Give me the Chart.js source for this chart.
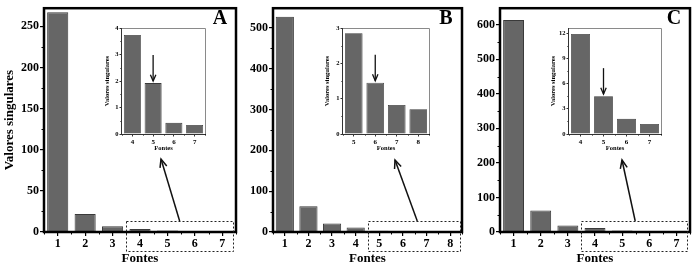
<!DOCTYPE html>
<html>
<head>
<meta charset="utf-8">
<script src="https://cdn.jsdelivr.net/npm/chart.js@4.4.1/dist/chart.umd.min.js"></script>
<style>
  body { margin: 0; background: #fff; }
  #wrap { position: relative; width: 692px; height: 269px; overflow: hidden; }
  canvas { position: absolute; }
</style>
</head>
<body>
<div id="wrap">
  <canvas id="mainA" width="240" height="269" style="left:0;top:0"></canvas>
  <canvas id="mainB" width="230" height="269" style="left:240px;top:0"></canvas>
  <canvas id="mainC" width="222" height="269" style="left:470px;top:0"></canvas>
  <canvas id="insetA" width="110" height="136" style="left:100px;top:20px"></canvas>
  <canvas id="insetB" width="115" height="136" style="left:320px;top:20px"></canvas>
  <canvas id="insetC" width="120" height="136" style="left:546px;top:20px"></canvas>
</div>
<script>
// main panels
var fontesA = ['1', '2', '3', '4', '5', '6', '7'];
var valoresA = [267, 22, 7, 3.74, 1.92, 0.42, 0.34];
var fontesB = ['1', '2', '3', '4', '5', '6', '7', '8'];
var valoresB = [527, 63, 21, 11, 2.85, 1.45, 0.82, 0.70];
var fontesC = ['1', '2', '3', '4', '5', '6', '7'];
var valoresC = [614, 62, 19, 11.9, 4.5, 1.8, 1.2];

// insets
var insetFontesA = ['4', '5', '6', '7'];
var insetValoresA = [3.74, 1.92, 0.42, 0.34];
var insetFontesB = ['5', '6', '7', '8'];
var insetValoresB = [2.85, 1.45, 0.82, 0.70];
var insetFontesC = ['4', '5', '6', '7'];
var insetValoresC = [11.9, 4.5, 1.8, 1.2];

var serif = "'Liberation Serif', 'DejaVu Serif', serif";
var barFill = '#666666';
var barEdge = '#3a3a3a';

function drawArrow(ctx, x1, y1, x2, y2, head) {
    var ang = Math.atan2(y2 - y1, x2 - x1);
    ctx.beginPath();
    ctx.moveTo(x1, y1);
    ctx.lineTo(x2, y2);
    ctx.stroke();
    ctx.beginPath();
    ctx.moveTo(x2 - head * Math.cos(ang - 0.4), y2 - head * Math.sin(ang - 0.4));
    ctx.lineTo(x2, y2);
    ctx.lineTo(x2 - head * Math.cos(ang + 0.4), y2 - head * Math.sin(ang + 0.4));
    ctx.stroke();
}

var decor = {
    id: 'decor',
    afterDraw: function(chart, args, o) {
        var ctx = chart.ctx, a = chart.chartArea;
        var x = chart.scales.x, y = chart.scales.y;
        ctx.save();
        // minor ticks
        ctx.strokeStyle = '#000';
        ctx.lineWidth = 1;
        y.ticks.forEach(function(t) {
            var v = t.value + o.step / 2;
            if (v >= y.max) return;
            var py = Math.round(y.getPixelForValue(v)) + 0.5;
            ctx.beginPath();
            ctx.moveTo(a.left, py);
            ctx.lineTo(a.left - o.minor, py);
            ctx.stroke();
        });
        for (var i = 0; i <= x.ticks.length; i++) {
            var px = Math.round(x.getPixelForValue(i - 0.5)) + 0.5;
            ctx.beginPath();
            ctx.moveTo(px, a.bottom);
            ctx.lineTo(px, a.bottom + o.minor);
            ctx.stroke();
        }
        // frame
        if (o.inset) {
            ctx.strokeStyle = '#8a8a8a';
            ctx.lineWidth = 1;
            ctx.beginPath();
            ctx.moveTo(a.left, a.top + 0.5);
            ctx.lineTo(a.right + 0.5, a.top + 0.5);
            ctx.lineTo(a.right + 0.5, a.bottom);
            ctx.stroke();
            ctx.strokeStyle = '#333';
            ctx.beginPath();
            ctx.moveTo(a.left - 0.5, a.top);
            ctx.lineTo(a.left - 0.5, a.bottom + 0.5);
            ctx.lineTo(a.right + 0.5, a.bottom + 0.5);
            ctx.stroke();
            // arrow pointing at the chosen bar
            var bar = chart.getDatasetMeta(0).data[o.mark];
            ctx.strokeStyle = '#111';
            ctx.lineWidth = 1.3;
            drawArrow(ctx, bar.x, bar.y - 28, bar.x, bar.y - 2, 7);
        } else {
            ctx.strokeStyle = '#000';
            ctx.lineWidth = 2.5;
            ctx.strokeRect(a.left, a.top, a.width, a.height);
            // panel letter
            ctx.fillStyle = '#000';
            ctx.font = 'bold 20px ' + serif;
            ctx.textAlign = 'center';
            ctx.textBaseline = 'middle';
            ctx.fillText(o.letter, a.right - 16, a.top + 11);
            // dashed zoom box
            var left = x.getPixelForValue(o.from - 0.5);
            var right = a.right - 3;
            var top = a.bottom - 11;
            ctx.lineWidth = 1;
            ctx.strokeStyle = '#222';
            ctx.setLineDash([2, 2]);
            ctx.strokeRect(Math.round(left) + 0.5, top + 0.5, Math.round(right - left), 30);
            ctx.setLineDash([]);
            ctx.lineWidth = 1.5;
            ctx.strokeStyle = '#111';
            drawArrow(ctx, (left + right) / 2 + o.tailShift, top, o.head[0], o.head[1], 9);
        }
        ctx.restore();
    }
};

function mainChart(id, labels, values, yMax, step, yWidth, padRight, letter, from, head, tailShift, showYTitle) {
    return new Chart(document.getElementById(id), {
        type: 'bar',
        data: {
            labels: labels,
            datasets: [{
                data: values,
                backgroundColor: barFill,
                borderColor: barEdge,
                borderWidth: 1,
                barPercentage: 0.77,
                categoryPercentage: 1
            }]
        },
        options: {
            responsive: false,
            animation: false,
            devicePixelRatio: 1,
            layout: { padding: { top: 5, right: padRight, left: 0, bottom: 0 } },
            plugins: {
                legend: { display: false },
                tooltip: { enabled: false },
                decor: { letter: letter, from: from, head: head, tailShift: tailShift, step: step, minor: 2.5 }
            },
            scales: {
                x: {
                    offset: true,
                    border: { display: false },
                    grid: { offset: false, drawOnChartArea: false, drawTicks: true, tickLength: 4, tickColor: '#000', lineWidth: 1.2 },
                    ticks: { color: '#000', padding: 1, font: { family: serif, size: 12, weight: 'bold' }, maxRotation: 0 },
                    title: { display: true, text: 'Fontes', color: '#000', padding: { top: 0, bottom: 3 }, font: { family: serif, size: 13, weight: 'bold' } },
                    afterFit: function(s) { s.height = 37; }
                },
                y: {
                    min: 0,
                    max: yMax,
                    border: { display: false },
                    grid: { drawOnChartArea: false, drawTicks: true, tickLength: 4, tickColor: '#000', lineWidth: 1.2 },
                    ticks: { stepSize: step, includeBounds: false, color: '#000', padding: 1, font: { family: serif, size: 12, weight: 'bold' } },
                    title: { display: showYTitle, text: 'Valores singulares', color: '#000', padding: { top: 2, bottom: 0 }, font: { family: serif, size: 13, weight: 'bold' } },
                    afterFit: function(s) { s.width = yWidth; }
                }
            }
        },
        plugins: [decor]
    });
}

function insetChart(id, labels, values, yMax, step, yWidth, padRight) {
    return new Chart(document.getElementById(id), {
        type: 'bar',
        data: {
            labels: labels,
            datasets: [{
                data: values,
                backgroundColor: barFill,
                borderColor: barEdge,
                borderWidth: 0.8,
                barPercentage: 0.82,
                categoryPercentage: 1
            }]
        },
        options: {
            responsive: false,
            animation: false,
            devicePixelRatio: 1,
            layout: { padding: { top: 8, right: padRight, left: 0, bottom: 0 } },
            plugins: {
                legend: { display: false },
                tooltip: { enabled: false },
                decor: { inset: true, mark: 1, step: step, minor: 1.5 }
            },
            scales: {
                x: {
                    offset: true,
                    border: { display: false },
                    grid: { offset: false, drawOnChartArea: false, drawTicks: true, tickLength: 2.5, tickColor: '#333' },
                    ticks: { color: '#000', padding: 1, font: { family: serif, size: 7, weight: 'bold' }, maxRotation: 0 },
                    title: { display: true, text: 'Fontes', color: '#000', padding: { top: 0, bottom: 4 }, font: { family: serif, size: 6.5, weight: 'bold' } },
                    afterFit: function(s) { s.height = 22; }
                },
                y: {
                    min: 0,
                    max: yMax,
                    border: { display: false },
                    grid: { drawOnChartArea: false, drawTicks: true, tickLength: 2.5, tickColor: '#333' },
                    ticks: { stepSize: step, includeBounds: false, color: '#000', padding: 1, font: { family: serif, size: 6.5, weight: 'bold' } },
                    title: { display: true, text: 'Valores singulares', color: '#000', padding: { top: 3, bottom: 0 }, font: { family: serif, size: 6.5, weight: 'bold' } },
                    afterFit: function(s) { s.width = yWidth; }
                }
            }
        },
        plugins: [decor]
    });
}

mainChart('mainA', fontesA, valoresA, 272, 50, 44, 4, 'A', 3, [161, 159], 0, true);
mainChart('mainB', fontesB, valoresB, 548, 100, 33, 8, 'B', 4, [155, 160], 4, false);
mainChart('mainC', fontesC, valoresC, 648, 100, 30, 2, 'C', 3, [152, 160], 1, false);

insetChart('insetA', insetFontesA, insetValoresA, 4, 1, 22, 5);
insetChart('insetB', insetFontesB, insetValoresB, 3, 1, 23, 6);
insetChart('insetC', insetFontesC, insetValoresC, 12.6, 3, 23, 5);
</script>
</body>
</html>
